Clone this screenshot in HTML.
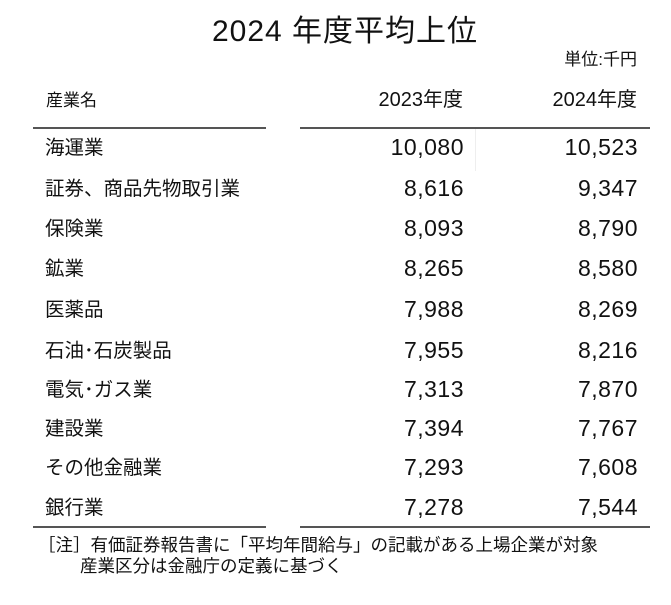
<!DOCTYPE html>
<html><head><meta charset="utf-8"><style>
body{margin:0;width:671px;height:605px;background:#fff;position:relative;overflow:hidden;font-family:"Liberation Sans","Noto Sans CJK JP",sans-serif;color:#111}
.a{position:absolute;white-space:nowrap;line-height:1}
.r{text-align:right}
.row{font-size:19.5px;margin-top:2px}
.n{font-size:23px;letter-spacing:0.5px}
.ln{position:absolute;height:2px;background:#555}
</style></head><body>
<div class="a" style="left:0;width:690px;text-align:center;top:17px;font-size:30px;letter-spacing:1px">2024 年度平均上位</div>
<div class="a r" style="right:34px;top:51px;font-size:17px">単位:千円</div>
<div class="a" style="left:46px;top:92px;font-size:17px">産業名</div>
<div class="a r" style="right:208px;top:90px;font-size:20px">2023年度</div>
<div class="a r" style="right:34px;top:90px;font-size:20px">2024年度</div>
<div class="ln" style="left:33px;width:233px;top:127px"></div>
<div class="ln" style="left:300px;width:350px;top:127px"></div>
<div style="position:absolute;left:475px;top:129px;width:1px;height:42px;background:#eee"></div>
<div class="ln" style="left:33px;width:233px;top:526px"></div>
<div class="ln" style="left:300px;width:350px;top:526px"></div>
<div class="a" style="left:38px;top:537px;font-size:17.5px">［注］有価証券報告書に「平均年間給与」の記載がある上場企業が対象</div>
<div class="a" style="left:80px;top:558px;font-size:17.5px">産業区分は金融庁の定義に基づく</div>
<div class="a row" style="left:45px;top:137px">海運業</div><div class="a n r" style="right:207px;top:136px">10,080</div><div class="a n r" style="right:33px;top:136px">10,523</div>
<div class="a row" style="left:45px;top:178px">証券、商品先物取引業</div><div class="a n r" style="right:207px;top:177px">8,616</div><div class="a n r" style="right:33px;top:177px">9,347</div>
<div class="a row" style="left:45px;top:218px">保険業</div><div class="a n r" style="right:207px;top:217px">8,093</div><div class="a n r" style="right:33px;top:217px">8,790</div>
<div class="a row" style="left:45px;top:258px">鉱業</div><div class="a n r" style="right:207px;top:257px">8,265</div><div class="a n r" style="right:33px;top:257px">8,580</div>
<div class="a row" style="left:45px;top:299px">医薬品</div><div class="a n r" style="right:207px;top:298px">7,988</div><div class="a n r" style="right:33px;top:298px">8,269</div>
<div class="a row" style="left:45px;top:340px">石油･石炭製品</div><div class="a n r" style="right:207px;top:339px">7,955</div><div class="a n r" style="right:33px;top:339px">8,216</div>
<div class="a row" style="left:45px;top:379px">電気･ガス業</div><div class="a n r" style="right:207px;top:378px">7,313</div><div class="a n r" style="right:33px;top:378px">7,870</div>
<div class="a row" style="left:45px;top:418px">建設業</div><div class="a n r" style="right:207px;top:417px">7,394</div><div class="a n r" style="right:33px;top:417px">7,767</div>
<div class="a row" style="left:45px;top:457px">その他金融業</div><div class="a n r" style="right:207px;top:456px">7,293</div><div class="a n r" style="right:33px;top:456px">7,608</div>
<div class="a row" style="left:45px;top:497px">銀行業</div><div class="a n r" style="right:207px;top:496px">7,278</div><div class="a n r" style="right:33px;top:496px">7,544</div>
</body></html>
